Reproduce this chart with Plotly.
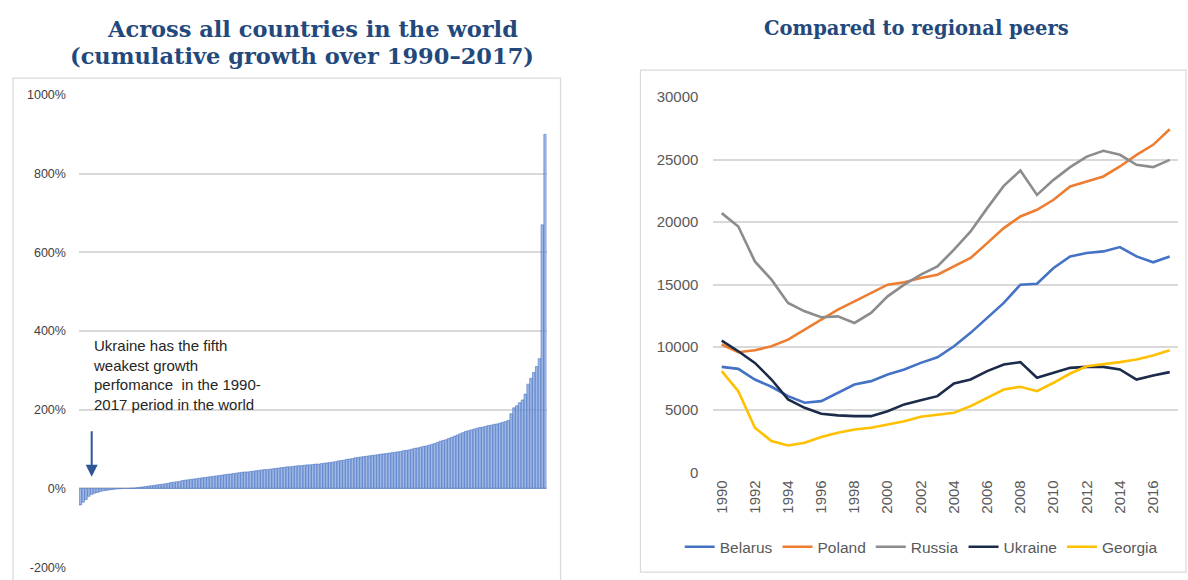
import plotly.graph_objects as go

# ---------------- data ----------------
# Left: cumulative growth 1990-2017, all countries, sorted (%)
growth_pct = [
    -42, -35, -28, -20, -15, -12, -10, -8, -6, -5, -4, -3, -2, -1, -1, 0, 0, 0,
    1, 1, 2, 3, 4, 5, 6, 7, 8, 9, 10, 11, 12, 13, 15, 16, 17, 18, 20, 21, 22, 23,
    24, 25, 26, 27, 28, 29, 30, 31, 32, 33, 34, 35, 36, 37, 38, 39, 40, 41, 42, 42,
    43, 44, 45, 46, 47, 48, 48, 49, 50, 51, 52, 53, 54, 55, 55, 56, 57, 58, 58, 59,
    60, 60, 61, 62, 62, 63, 64, 65, 66, 67, 68, 70, 71, 72, 74, 75, 76, 78, 79, 80,
    81, 82, 83, 84, 85, 86, 87, 88, 89, 90, 91, 92, 93, 94, 96, 97, 98, 100, 102, 103,
    105, 107, 108, 110, 112, 114, 117, 120, 122, 124, 127, 130, 133, 136, 139, 142,
    145, 147, 149, 151, 153, 155, 156, 158, 160, 161, 163, 164, 166, 168, 170, 173,
    190, 205, 210, 218, 225, 240, 265, 280, 295, 310, 330, 670, 900,
]
country_rank = list(range(1, len(growth_pct) + 1))
left_yticks = [-200, 0, 200, 400, 600, 800, 1000]
left_yticklabels = ["-200%", "0%", "200%", "400%", "600%", "800%", "1000%"]

# Right: GDP per capita, regional peers
years = list(range(1990, 2018))
belarus = [8430, 8270, 7420, 6840, 6090, 5560, 5690, 6360, 7020, 7290, 7820, 8220, 8750, 9200,
           10080, 11150, 12340, 13540, 15000, 15080, 16330, 17260, 17530, 17660, 18010, 17260, 16790, 17260]
poland = [10215, 9600, 9760, 10080, 10610, 11410, 12150, 13000, 13670, 14340, 15000, 15190, 15540, 15800,
          16460, 17130, 18320, 19520, 20450, 20990, 21790, 22850, 23250, 23650, 24450, 25380, 26180, 27430]
russia = [20720, 19650, 16860, 15400, 13540, 12870, 12400, 12470, 11940, 12740, 14070, 15000, 15800, 16460,
          17800, 19260, 21120, 22900, 24130, 22180, 23380, 24400, 25240, 25700, 25380, 24580, 24400, 24980]
ukraine = [10530, 9680, 8750, 7420, 5830, 5160, 4680, 4550, 4490, 4490, 4890, 5430, 5770, 6090,
           7100, 7420, 8090, 8620, 8810, 7560, 7960, 8350, 8430, 8430, 8220, 7420, 7740, 8010]
georgia = [8090, 6490, 3560, 2500, 2150, 2370, 2820, 3170, 3430, 3560, 3830, 4090, 4440, 4600,
           4760, 5290, 5960, 6620, 6840, 6490, 7160, 7900, 8480, 8620, 8810, 9020, 9340, 9760]
series = [("Belarus", belarus, "#4472C4"), ("Poland", poland, "#ED7D31"),
          ("Russia", russia, "#8C8C8C"), ("Ukraine", ukraine, "#1C2B4A"),
          ("Georgia", georgia, "#FFC000")]

# ---------------- figure ----------------
W, H = 1188, 580
# the captured picture places the page's vertical span at ~8.8 + 0.9725*y; compensate
VY0, VS = 8.8, 0.9725
def px_x(p): return p / W
def px_y(p): return 1 - ((p - VY0) / VS) / H

fig = go.Figure()

fig.add_trace(go.Bar(
    x=country_rank, y=growth_pct, xaxis="x", yaxis="y",
    marker=dict(color="rgba(128,160,218,0.75)", line=dict(color="#4472C4", width=0.6)),
    showlegend=False, hoverinfo="y",
))

for name, vals, col in series:
    fig.add_trace(go.Scatter(
        x=years, y=vals, xaxis="x2", yaxis="y2", mode="lines", name=name,
        line=dict(color=col, width=2.6),
    ))

tickfont_l = dict(family="Liberation Sans", size=12.5, color="#404040")
tickfont_r = dict(family="Liberation Sans", size=15, color="#595959")
grid = "#D9D9D9"

fig.update_layout(
    width=W, height=H, margin=dict(l=0, r=0, t=0, b=0),
    paper_bgcolor="white", plot_bgcolor="white",
    bargap=0.12,
    xaxis=dict(domain=[px_x(78), px_x(546)], range=[0.5, len(growth_pct) + 0.5],
               showticklabels=False, showgrid=False, zeroline=False, anchor="y"),
    yaxis=dict(domain=[px_y(568), px_y(95)], range=[-200, 1000], tickvals=left_yticks,
               ticktext=left_yticklabels, tickfont=tickfont_l, gridcolor=grid, gridwidth=1.5,
               zeroline=False, ticklabelstandoff=12, anchor="x"),
    xaxis2=dict(domain=[px_x(713), px_x(1178)], range=[1989.5, 2017.5], tickmode="array",
                tickvals=list(range(1990, 2017, 2)), tickangle=-90, tickfont=tickfont_r,
                showgrid=False, zeroline=False, anchor="y2", ticklabelstandoff=4),
    yaxis2=dict(domain=[px_y(473), px_y(97)], range=[0, 30000], dtick=5000, tickformat="d",
                tickfont=tickfont_r, gridcolor=grid, gridwidth=1.5, zeroline=False,
                ticklabelstandoff=14, anchor="x2"),
    legend=dict(orientation="h", x=px_x(921), xanchor="center", y=px_y(548), yanchor="middle",
                font=dict(family="Liberation Sans", size=15.5, color="#595959"),
                itemwidth=30, tracegroupgap=0, bgcolor="rgba(0,0,0,0)"),
)

fig.add_annotation(text="<b>Across all countries in the world</b>", x=px_x(312), y=px_y(29),
                   xref="paper", yref="paper", xanchor="center", yanchor="middle",
                   showarrow=False, font=dict(family="DejaVu Serif", size=22.5, color="#23497C"))
fig.add_annotation(text="<b>(cumulative growth over 1990–2017)</b>", x=px_x(301), y=px_y(56),
                   xref="paper", yref="paper", xanchor="center", yanchor="middle",
                   showarrow=False, font=dict(family="DejaVu Serif", size=22.5, color="#23497C"))
fig.add_annotation(text="<b>Compared to regional peers</b>", x=px_x(916), y=px_y(28),
                   xref="paper", yref="paper", xanchor="center", yanchor="middle",
                   showarrow=False, font=dict(family="DejaVu Serif", size=19.5, color="#23497C"))

fig.add_annotation(
    text="Ukraine has the fifth<br>weakest growth<br>perfomance  in the 1990-<br>2017 period in the world",
    x=px_x(90), y=px_y(335), xref="paper", yref="paper", xanchor="left", yanchor="top",
    align="left", showarrow=False,
    font=dict(family="Liberation Sans", size=15, color="#262626"))

# arrow pointing to Ukraine's bar (5th weakest)
fig.add_annotation(x=country_rank[4], y=30, xref="x", yref="y", text="", showarrow=True,
                   ax=0, ay=-47, arrowhead=2, arrowsize=1.2, arrowwidth=2, arrowcolor="#2F5597")

# panel borders
fig.add_shape(type="rect", xref="paper", yref="paper", x0=px_x(12), x1=px_x(560),
              y0=px_y(590), y1=px_y(78), line=dict(color="#D9D9D9", width=1.2))
fig.add_shape(type="rect", xref="paper", yref="paper", x0=px_x(640), x1=px_x(1186),
              y0=px_y(573), y1=px_y(70), line=dict(color="#D9D9D9", width=1.2))

# pin the figure to the window's top-left corner so the page is exactly window-sized
pin = ("var d=document.getElementById('{plot_id}');"
       "d.style.position='fixed';d.style.top='0px';d.style.left='0px';"
       "document.body.style.margin='0';")
fig.write_html("out.html", config={"displayModeBar": False}, post_script=pin)
